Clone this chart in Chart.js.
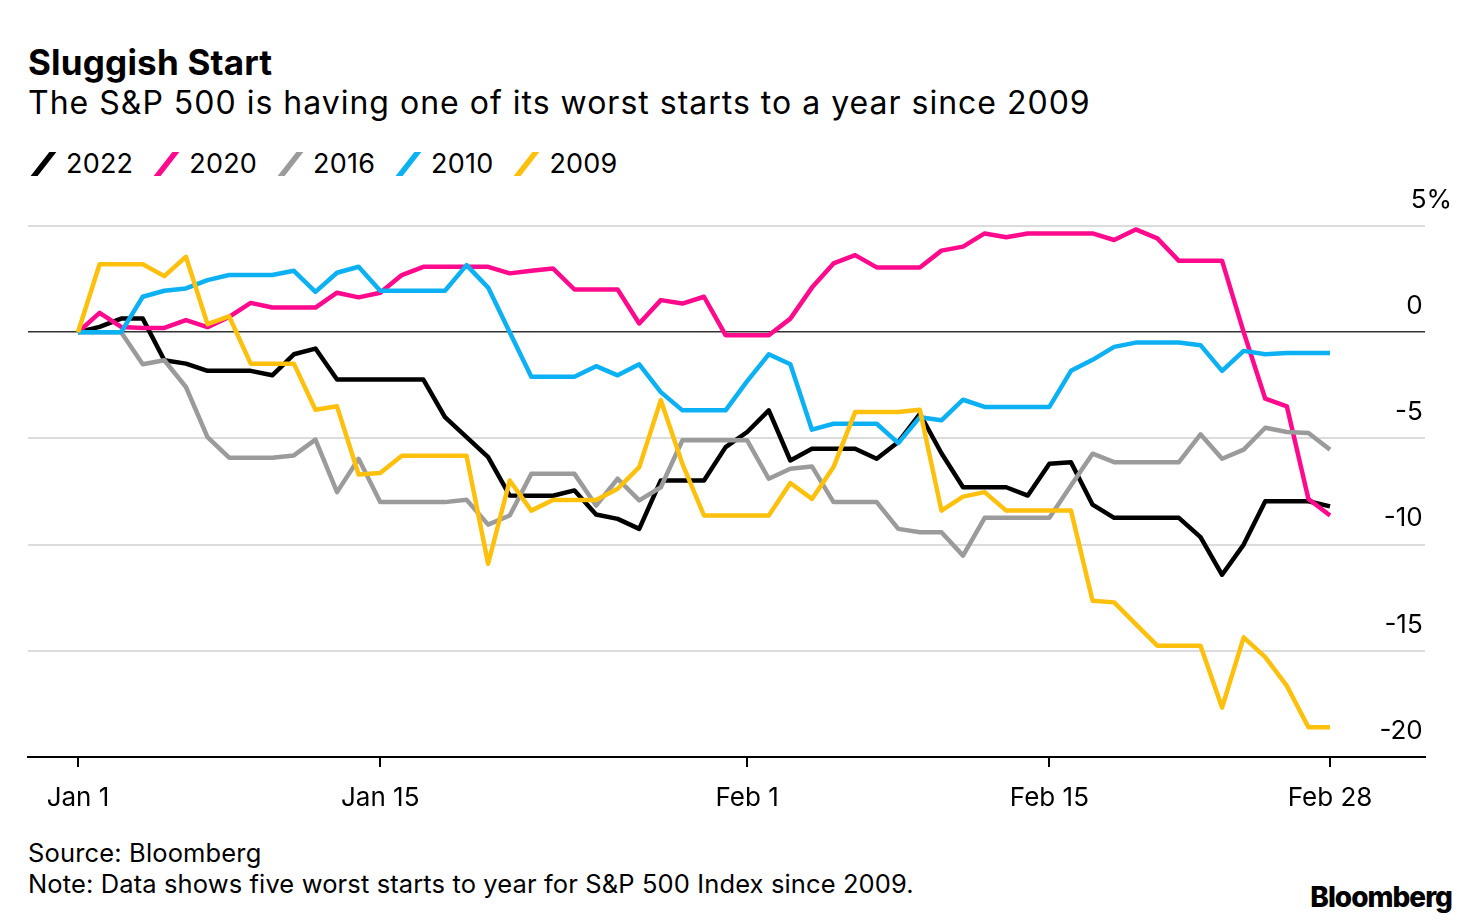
<!DOCTYPE html>
<html>
<head>
<meta charset="utf-8">
<title>Sluggish Start</title>
<script src="https://cdn.jsdelivr.net/npm/chart.js@4.4.3/dist/chart.umd.min.js"></script>
<style>
  html, body { margin: 0; padding: 0; background: #fff; }
  body { width: 1480px; height: 924px; position: relative; overflow: hidden; font-family: Inter, "Noto Sans", sans-serif; color: #000; }
  .txt { position: absolute; left: 28px; line-height: 1; white-space: nowrap; }
  #title { top: 45px; font-size: 35px; font-weight: 700; letter-spacing: 0.2px; }
  #subtitle { top: 87px; font-size: 32px; letter-spacing: 1px; }
  #legend { position: absolute; left: 30px; top: 149px; display: flex; align-items: center; font-size: 27px; line-height: 30px; letter-spacing: 0.2px; }
  #legend .item { display: flex; align-items: center; margin-right: 20px; }
  #legend .mark { display: inline-block; width: 7px; height: 24px; transform: skewX(-38deg); margin: 0 9.5px; }
  #legend .lab { margin-left: 10px; }
  #source { top: 840px; font-size: 25.5px; letter-spacing: 0.15px; }
  #note { top: 871px; font-size: 25.5px; letter-spacing: 0.12px; }
  #logo { position: absolute; right: 28px; top: 883px; font-size: 28px; font-weight: 800; letter-spacing: -1px; line-height: 1; }
  #wrap { position: absolute; left: 0; top: 180px; width: 1480px; height: 640px; }
</style>
</head>
<body>
<div id="title" class="txt">Sluggish Start</div>
<div id="subtitle" class="txt">The S&amp;P 500 is having one of its worst starts to a year since 2009</div>
<div id="legend"></div>
<div id="wrap"><canvas id="chart"></canvas></div>
<div id="source" class="txt">Source: Bloomberg</div>
<div id="note" class="txt">Note: Data shows five worst starts to year for S&amp;P 500 Index since 2009.</div>
<div id="logo">Bloomberg</div>

<script>
// days since Jan 1 (Jan 1 = 0, Feb 28 = 58)
const days = [0,1,2,3,4,5,6,7,8,9,10,11,12,13,14,15,16,17,18,19,20,21,22,23,24,25,26,27,28,29,
  30,31,32,33,34,35,36,37,38,39,40,41,42,43,44,45,46,47,48,49,50,51,52,53,54,55,56,57,58];

const tickDays = [0, 14, 31, 45, 58];
const tickLabels = ['Jan 1', 'Jan 15', 'Feb 1', 'Feb 15', 'Feb 28'];
const yTicks = [5, 0, -5, -10, -15, -20];

const seriesNames = ['2022', '2020', '2016', '2010', '2009'];
const seriesColors = ['#000000', '#ff0a8c', '#9b9b9b', '#0cb1f4', '#fdc00c'];

// % change since start of year
const s2022 = [0, 0.25, 0.64, 0.64, -1.32, -1.48, -1.82, -1.82, -1.82, -2.03,
  -1.04, -0.77, -2.23, -2.23, -2.23, -2.23, -2.23, -4.0, -4.94, -5.88,
  -7.69, -7.7, -7.7, -7.45, -8.58, -8.79, -9.26, -6.98, -6.98, -6.98,
  -5.41, -4.7, -3.68, -6.04, -5.49, -5.49, -5.49, -5.96, -5.17, -3.84,
  -5.7, -7.3, -7.3, -7.3, -7.69, -6.19, -6.12, -8.12, -8.74, -8.74,
  -8.74, -8.74, -9.65, -11.42, -10.0, -7.96, -7.96, -7.96, -8.2];
const s2020 = [0, 0.91, 0.25, 0.2, 0.2, 0.57, 0.24, 0.72, 1.38, 1.16,
  1.16, 1.16, 1.86, 1.64, 1.86, 2.69, 3.08, 3.08, 3.08, 3.08,
  2.77, 2.89, 3.0, 2.01, 2.01, 2.01, 0.41, 1.51, 1.35, 1.67,
  -0.14, -0.14, -0.14, 0.64, 2.1, 3.24, 3.63, 3.05, 3.05, 3.05,
  3.84, 4.03, 4.65, 4.47, 4.65, 4.65, 4.65, 4.65, 4.34, 4.84,
  4.42, 3.36, 3.36, 3.36, 0.0, -3.13, -3.49, -7.85, -8.63];
const s2016 = [0, 0, 0, -1.51, -1.32, -2.58, -4.94, -5.91, -5.91, -5.91,
  -5.8, -5.06, -7.53, -5.96, -8.0, -8.0, -8.0, -8.0, -7.89, -9.06,
  -8.63, -6.67, -6.67, -6.67, -8.16, -6.9, -7.92, -7.3, -5.09, -5.09,
  -5.09, -5.09, -6.9, -6.43, -6.32, -8.0, -8.0, -8.0, -9.26, -9.42,
  -9.42, -10.52, -8.74, -8.74, -8.74, -8.74, -7.22, -5.72, -6.12, -6.12,
  -6.12, -6.12, -4.81, -5.96, -5.53, -4.5, -4.7, -4.75, -5.53];
const s2010 = [0, 0, 0, 1.67, 1.95, 2.06, 2.45, 2.69, 2.69, 2.69,
  2.89, 1.9, 2.8, 3.08, 1.95, 1.95, 1.95, 1.95, 3.16, 2.1,
  0.0, -2.1, -2.1, -2.1, -1.6, -2.03, -1.51, -2.82, -3.68, -3.68,
  -3.68, -2.3, -1.04, -1.51, -4.59, -4.31, -4.31, -4.31, -5.22, -4.0,
  -4.15, -3.18, -3.52, -3.52, -3.52, -3.52, -1.82, -1.3, -0.69, -0.49,
  -0.49, -0.49, -0.61, -1.82, -0.88, -1.04, -0.98, -0.98, -0.98];
const s2009 = [0, 3.2, 3.2, 3.2, 2.64, 3.55, 0.38, 0.75, -1.48, -1.48,
  -1.48, -3.65, -3.49, -6.7, -6.63, -5.82, -5.82, -5.82, -5.82, -10.9,
  -6.98, -8.4, -7.9, -7.9, -7.9, -7.37, -6.35, -3.2, -6.2, -8.63,
  -8.63, -8.63, -8.63, -7.1, -7.85, -6.35, -3.76, -3.76, -3.76, -3.65,
  -8.4, -7.74, -7.53, -8.4, -8.4, -8.4, -8.4, -12.64, -12.72, -13.74,
  -14.76, -14.76, -14.76, -17.67, -14.37, -15.3, -16.65, -18.6, -18.6];

const seriesValues = [s2022, s2020, s2016, s2010, s2009];

// legend (html, same order as the reference)
const legend = document.getElementById('legend');
seriesNames.forEach((name, i) => {
  const item = document.createElement('div');
  item.className = 'item';
  item.innerHTML = `<span class="mark" style="background:${seriesColors[i]}"></span><span class="lab">${name}</span>`;
  legend.appendChild(item);
});

Chart.defaults.font.family = 'Inter, "Noto Sans", sans-serif';
Chart.defaults.color = '#000';

const datasets = seriesNames.map((name, i) => ({
  label: name,
  data: seriesValues[i].map((v, j) => ({ x: days[j], y: v })),
  borderColor: seriesColors[i],
  borderWidth: 4.5,
  borderJoinStyle: 'round',
  pointRadius: 0,
  tension: 0,
  fill: false,
  order: seriesNames.length - i   // 2009 drawn on top, 2022 underneath
}));

new Chart(document.getElementById('chart'), {
  type: 'line',
  data: { datasets },
  options: {
    responsive: true,
    maintainAspectRatio: false,
    animation: false,
    layout: { padding: { left: 28, right: 0, top: 46, bottom: 0 } },
    plugins: { legend: { display: false }, tooltip: { enabled: false } },
    scales: {
      x: {
        type: 'linear',
        min: -2.316,
        max: 62.40,
        afterBuildTicks: s => { s.ticks = tickDays.map(v => ({ value: v })); },
        afterFit: s => { s.height = 63; },
        ticks: {
          autoSkip: false,
          maxRotation: 0,
          padding: 16,
          font: { size: 26 },
          callback: v => tickLabels[tickDays.indexOf(v)]
        },
        grid: { drawOnChartArea: false, drawTicks: true, tickLength: 10, color: '#000', lineWidth: 2 },
        border: { display: true, color: '#000', width: 2 }
      },
      y: {
        type: 'linear',
        position: 'right',
        min: -20,
        max: 5,
        afterBuildTicks: s => { s.ticks = yTicks.map(v => ({ value: v })); },
        afterFit: s => { s.width = 55; },
        ticks: {
          mirror: true,
          padding: 27,
          labelOffset: -26,
          font: { size: 26 },
          // the % sign hangs past the right edge, so pad the other labels to match
          callback: v => (v === 5 ? '5%' : String(v) + '    ')
        },
        grid: {
          drawTicks: false,
          color: c => (c.tick.value === 0 ? '#333' : c.tick.value === -20 ? '#000' : '#dcdcdc'),
          lineWidth: c => (c.tick.value === 0 ? 1.5 : 2)
        },
        border: { display: false }
      }
    }
  }
});
</script>
</body>
</html>
